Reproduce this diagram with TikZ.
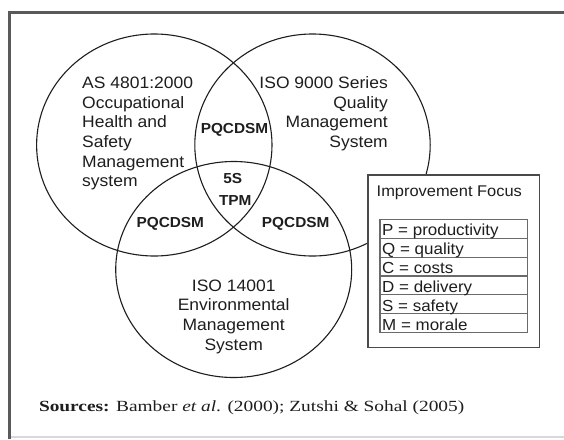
\documentclass[tikz,border=0pt]{standalone}
\usepackage{fontspec}
\setmainfont{Liberation Sans}
\newfontfamily\mainsans{Liberation Sans}[FakeStretch=1.06]
\newfontfamily\srcfont{Liberation Serif}[FakeStretch=1.25]
\definecolor{framegray}{HTML}{5A5A5A}
\definecolor{edgegray}{HTML}{D8D8D8}
\definecolor{ink}{HTML}{1E1E1E}
\definecolor{boxgray}{HTML}{4A4A4A}
\definecolor{rowgray}{HTML}{6A6A6A}
\tikzset{
  venn/.style={draw=ink, line width=1.1pt},
  bigtext/.style={font={\mainsans\fontsize{16.5}{19.7}\selectfont}, text=ink, inner sep=0pt},
  boldlab/.style={font={\mainsans\bfseries\fontsize{14.5}{17}\selectfont}, text=ink, inner sep=0pt, anchor=base},
  rowtext/.style={font={\mainsans\fontsize{16}{19}\selectfont}, text=ink, inner sep=0pt, anchor=base west},
}
\begin{document}
\begin{tikzpicture}[x=1pt,y=-1pt]
\useasboundingbox (0,0) rectangle (564,439);
\fill[white] (0,0) rectangle (564,439);
% frame
\draw[framegray, line width=2.6pt] (9.5,439) -- (9.5,12.5) -- (564,12.5);
\draw[edgegray, line width=1.2pt] (11,437) -- (564,437);
% circles
\draw[venn] (154.3,145) ellipse [x radius=117.7pt, y radius=111pt];
\draw[venn] (312.5,145) ellipse [x radius=117.7pt, y radius=111pt];
\draw[venn] (233.7,269.5) ellipse [x radius=118pt, y radius=108pt];
% circle texts (anchor = baseline of the last line)
\node[bigtext, anchor=base west, align=left] (ohs) at (82,186.8)
  {AS 4801:2000\\Occupational\\Health and\\Safety\\Management\\system};
\node[bigtext, anchor=base east, align=right] (qms) at (388,147.4)
  {ISO 9000 Series\\Quality\\Management\\System};
\node[bigtext, anchor=base, align=center] (ems) at (233.7,350.1)
  {ISO 14001\\Environmental\\Management\\System};
% overlap labels
\node[boldlab] (top) at (234.5,133.3) {PQCDSM};
\node[boldlab] (lb) at (170.3,227.3) {PQCDSM};
\node[boldlab] (rb) at (295.7,227.3) {PQCDSM};
\node[boldlab] (fives) at (232.7,183.3) {5S};
\node[boldlab] (tpm) at (235.3,205) {TPM};
% improvement focus box
\draw[boxgray, line width=1.3pt, fill=white] (368,175) rectangle (539.3,347.7);
\node[bigtext, anchor=base west, font={\mainsans\fontsize{15.5}{19}\selectfont}] (title) at (376.5,196.7) {Improvement Focus};
\draw[rowgray, line width=1.1pt] (380,219.3) rectangle (527.7,332.7);
\foreach \k in {1,...,5}{
  \draw[rowgray, line width=1.1pt] (380,219.3+18.9*\k) -- (527.7,219.3+18.9*\k);
}
\node[rowtext] (rp) at (382,235.5) {P = productivity};
\node[rowtext] (rq) at (382,254.4) {Q = quality};
\node[rowtext] (rc) at (382,273.3) {C = costs};
\node[rowtext] (rd) at (382,292.2) {D = delivery};
\node[rowtext] (rs) at (382,311.1) {S = safety};
\node[rowtext] (rm) at (382,330.0) {M = morale};
% sources
\node[anchor=base west, inner sep=0pt, text=ink, font={\srcfont\fontsize{15.5}{18}\selectfont}] (src) at (38.8,411)
  {\textbf{Sources:} Bamber \textit{et al}. (2000); Zutshi \& Sohal (2005)};
\end{tikzpicture}
\end{document}
